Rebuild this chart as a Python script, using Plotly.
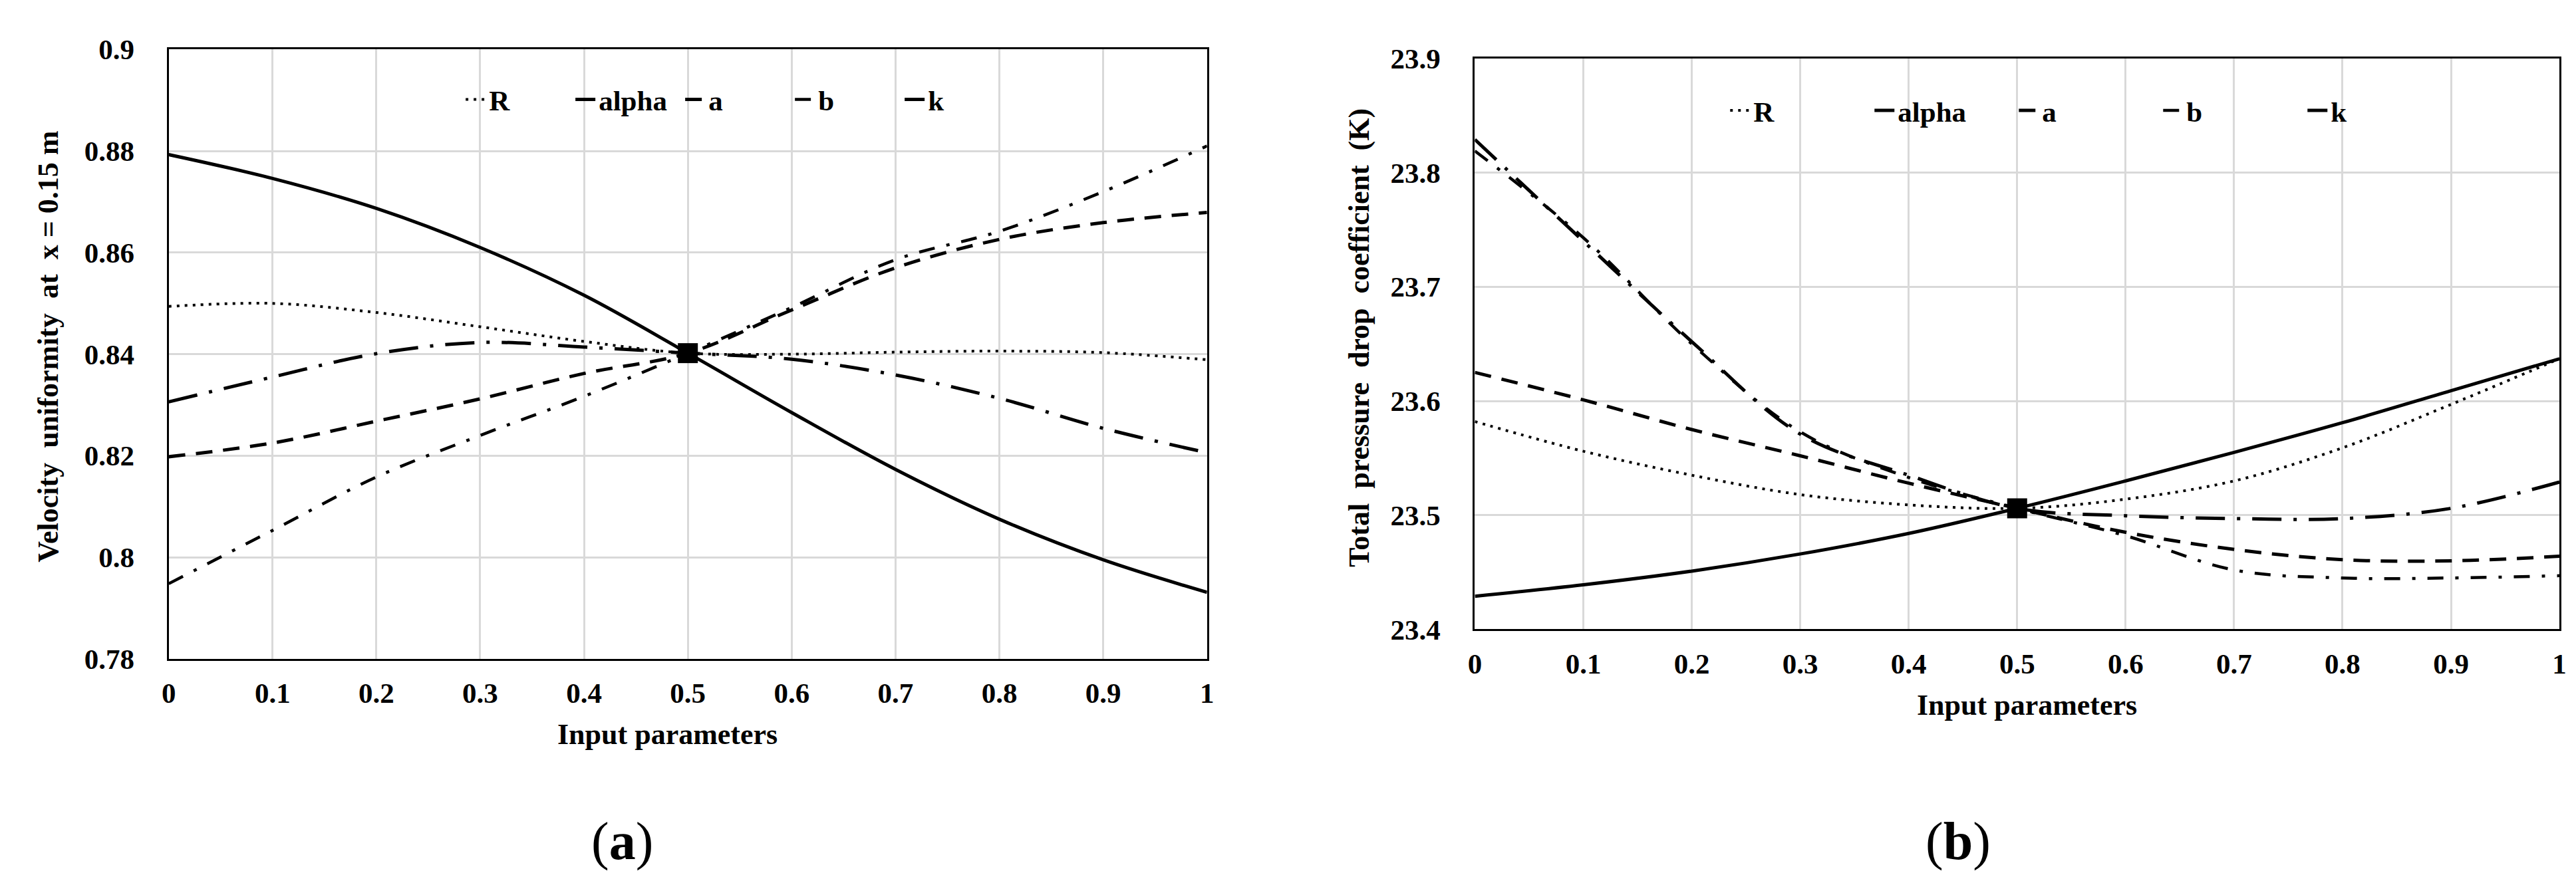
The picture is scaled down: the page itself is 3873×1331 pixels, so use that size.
import plotly.graph_objects as go

# ---------------- data ----------------
x_vals = [0, 0.1, 0.2, 0.3, 0.4, 0.5, 0.6, 0.7, 0.8, 0.9, 1.0]
series_names = ["R", "alpha", "a", "b", "k"]

# (a) velocity uniformity at x = 0.15 m
va_R = [0.8494, 0.8500, 0.8482, 0.8454, 0.8425, 0.8402, 0.8400, 0.8404, 0.8406, 0.8403, 0.8389]
va_alpha = [0.8793, 0.8746, 0.8687, 0.8610, 0.8516, 0.8402, 0.8285, 0.8173, 0.8075, 0.7995, 0.7931]
va_a = [0.8198, 0.8225, 0.8268, 0.8312, 0.8362, 0.8402, 0.8487, 0.8570, 0.8626, 0.8659, 0.8679]
va_b = [0.7948, 0.8053, 0.8158, 0.8240, 0.8317, 0.8402, 0.8492, 0.8586, 0.8642, 0.8720, 0.8810]
va_k = [0.8306, 0.8355, 0.8401, 0.8423, 0.8414, 0.8402, 0.8390, 0.8359, 0.8313, 0.8254, 0.8206]

# (b) total pressure drop coefficient K
vb_R = [23.582, 23.556, 23.535, 23.518, 23.509, 23.506, 23.514, 23.530, 23.559, 23.597, 23.637]
vb_alpha = [23.429, 23.439, 23.451, 23.466, 23.484, 23.506, 23.530, 23.555, 23.581, 23.609, 23.637]
vb_a = [23.625, 23.601, 23.575, 23.552, 23.528, 23.506, 23.485, 23.470, 23.461, 23.460, 23.464]
vb_b = [23.819, 23.743, 23.650, 23.573, 23.533, 23.506, 23.482, 23.452, 23.445, 23.445, 23.447]
vb_k = [23.829, 23.740, 23.652, 23.571, 23.535, 23.506, 23.4995, 23.497, 23.497, 23.506, 23.529]

# reference (base) point
base_x = [0.5]
base_a = [0.8402]
base_b = [23.506]

# tick labels
x_ticks = [0, 0.1, 0.2, 0.3, 0.4, 0.5, 0.6, 0.7, 0.8, 0.9, 1.0]
x_ticktext = ["0", "0.1", "0.2", "0.3", "0.4", "0.5", "0.6", "0.7", "0.8", "0.9", "1"]
ya_ticks = [0.78, 0.80, 0.82, 0.84, 0.86, 0.88, 0.90]
ya_ticktext = ["0.78", "0.8", "0.82", "0.84", "0.86", "0.88", "0.9"]
yb_ticks = [23.4, 23.5, 23.6, 23.7, 23.8, 23.9]
yb_ticktext = ["23.4", "23.5", "23.6", "23.7", "23.8", "23.9"]

# ---------------- styles ----------------
FONT = "Liberation Serif"
styles = {
    "R": dict(width=4, dash="4px,8px"),
    "alpha": dict(width=5, dash="solid"),
    "a": dict(width=5, dash="25px,16px"),
    "b": dict(width=4.5, dash="24px,18px,5px,18px"),
    "k": dict(width=5, dash="44px,18px,5px,18px"),
}

W, H = 3873, 1331
def px(v):
    return v / W
def py(v):
    return 1 - v / H

fig = go.Figure()

data_a = dict(zip(series_names, [va_R, va_alpha, va_a, va_b, va_k]))
data_b = dict(zip(series_names, [vb_R, vb_alpha, vb_a, vb_b, vb_k]))

for name in series_names:
    fig.add_trace(go.Scatter(
        x=x_vals, y=data_a[name], mode="lines", name=name,
        line=dict(color="black", shape="spline", smoothing=1.0, **styles[name]),
        xaxis="x", yaxis="y", legend="legend", hoverinfo="skip"))
for name in series_names:
    fig.add_trace(go.Scatter(
        x=x_vals, y=data_b[name], mode="lines", name=name,
        line=dict(color="black", shape="spline", smoothing=1.0, **styles[name]),
        xaxis="x2", yaxis="y2", legend="legend2", hoverinfo="skip"))

fig.add_trace(go.Scatter(x=base_x, y=base_a, mode="markers", showlegend=False,
                         marker=dict(symbol="square", size=30, color="black"),
                         xaxis="x", yaxis="y"))
fig.add_trace(go.Scatter(x=base_x, y=base_b, mode="markers", showlegend=False,
                         marker=dict(symbol="square", size=30, color="black"),
                         xaxis="x2", yaxis="y2"))

tickfont = dict(family=FONT, size=43, color="black", weight="bold")
common = dict(showgrid=True, gridcolor="#d9d9d9", gridwidth=3, zeroline=False,
              showline=True, linecolor="black", linewidth=3, mirror=True,
              ticks="", tickfont=tickfont, tickmode="array")

legend_font = dict(family=FONT, size=43, color="black", weight="bold")

fig.update_layout(
    width=W, height=H,
    margin=dict(l=0, r=0, t=0, b=0),
    paper_bgcolor="white", plot_bgcolor="white",
    showlegend=True,
    xaxis=dict(domain=[px(236), px(1806)], range=[0, 1], anchor="y",
               tickvals=x_ticks, ticktext=x_ticktext, ticklabelstandoff=12, **common),
    yaxis=dict(domain=[py(995), py(45)], range=[0.78, 0.90], anchor="x",
               tickvals=ya_ticks, ticktext=ya_ticktext, ticklabelstandoff=40, **common),
    xaxis2=dict(domain=[px(2211), px(3851)], range=[0, 1], anchor="y2",
                tickvals=x_ticks, ticktext=x_ticktext, ticklabelstandoff=12, **common),
    yaxis2=dict(domain=[py(949), py(59)], range=[23.4, 23.9], anchor="x2",
                tickvals=yb_ticks, ticktext=yb_ticktext, ticklabelstandoff=40, **common),
    legend=dict(orientation="h", x=px(680), y=py(123), xanchor="left", yanchor="middle",
                bgcolor="rgba(0,0,0,0)", entrywidth=120, entrywidthmode="pixels",
                font=legend_font),
    legend2=dict(orientation="h", x=px(2592), y=py(140), xanchor="left", yanchor="middle",
                 bgcolor="rgba(0,0,0,0)", entrywidth=172, entrywidthmode="pixels",
                 font=legend_font),
)

title_font = dict(family=FONT, size=44, color="black", weight="bold")
ann = [
    dict(text="Velocity  uniformity  at  x = 0.15 m", x=px(53), y=py(508), textangle=-90, font=title_font),
    dict(text="Total  pressure  drop  coefficient  (K)", x=px(2036), y=py(494), textangle=-90, font=title_font),
    dict(text="Input parameters", x=px(990), y=py(1113), font=title_font),
    dict(text="Input parameters", x=px(3046), y=py(1067), font=title_font),
    dict(text="(<b>a</b>)", x=px(922), y=py(1280), font=dict(family=FONT, size=80, color="black")),
    dict(text="(<b>b</b>)", x=px(2942), y=py(1280), font=dict(family=FONT, size=80, color="black")),
]
for a in ann:
    fig.add_annotation(xref="paper", yref="paper", showarrow=False,
                       xanchor="center", yanchor="middle", **a)

fig.write_html("out.html")
